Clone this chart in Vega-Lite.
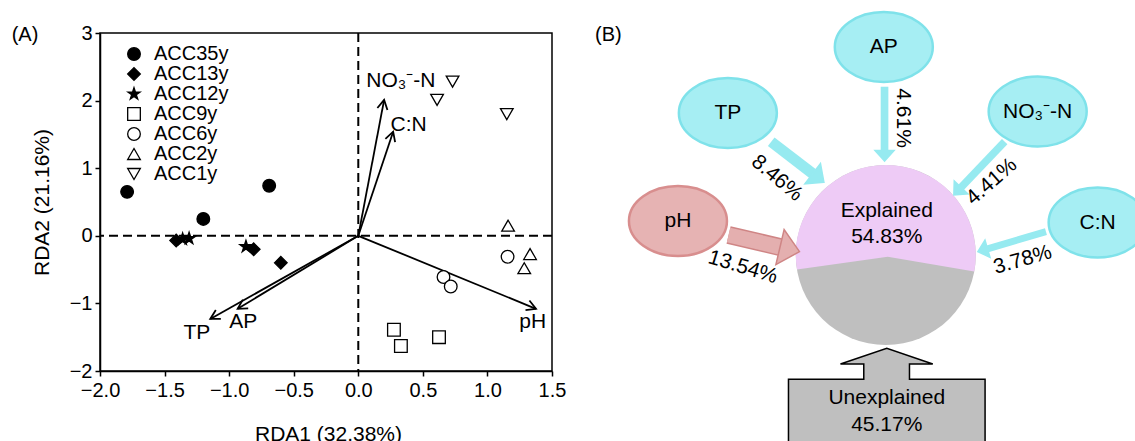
{
  "$schema": "https://vega.github.io/schema/vega-lite/v6.json",
  "background": "white",
  "padding": {"left": 10, "top": 7, "right": 0, "bottom": 0},
  "spacing": 28,
  "resolve": {
    "scale": {"shape": "independent", "fill": "independent", "stroke": "independent", "size": "independent", "strokeWidth": "independent", "color": "independent"},
    "legend": {"shape": "independent", "fill": "independent"}
  },
  "config": {
    "font": "Liberation Sans",
    "text": {"font": "Liberation Sans", "color": "black"},
    "axis": {
      "labelFont": "Liberation Sans", "titleFont": "Liberation Sans",
      "labelColor": "black", "titleColor": "black",
      "domainColor": "black", "tickColor": "black",
      "domainWidth": 1.5, "tickWidth": 1.5, "tickSize": 5,
      "grid": false, "labelFontSize": 20, "titleFontSize": 21,
      "titleFontWeight": "normal"
    },
    "legend": {"labelFont": "Liberation Sans"}
  },
  "datasets": {
    "samples": [
      {"group": "ACC35y", "x": -1.79, "y": 0.65},
      {"group": "ACC35y", "x": -0.69, "y": 0.74},
      {"group": "ACC35y", "x": -1.20, "y": 0.25},
      {"group": "ACC13y", "x": -1.41, "y": -0.07},
      {"group": "ACC13y", "x": -0.81, "y": -0.20},
      {"group": "ACC13y", "x": -0.60, "y": -0.40},
      {"group": "ACC12y", "x": -1.36, "y": -0.05},
      {"group": "ACC12y", "x": -1.31, "y": -0.04},
      {"group": "ACC12y", "x": -0.87, "y": -0.16},
      {"group": "ACC9y", "x": 0.276, "y": -1.39},
      {"group": "ACC9y", "x": 0.33, "y": -1.63},
      {"group": "ACC9y", "x": 0.625, "y": -1.50},
      {"group": "ACC6y", "x": 1.156, "y": -0.31},
      {"group": "ACC6y", "x": 0.66, "y": -0.61},
      {"group": "ACC6y", "x": 0.716, "y": -0.75},
      {"group": "ACC2y", "x": 1.16, "y": 0.15},
      {"group": "ACC2y", "x": 1.33, "y": -0.27},
      {"group": "ACC2y", "x": 1.285, "y": -0.48},
      {"group": "ACC1y", "x": 0.73, "y": 2.28},
      {"group": "ACC1y", "x": 0.61, "y": 2.01},
      {"group": "ACC1y", "x": 1.15, "y": 1.80}
    ],
    "vectors": [
      {"var": "NO3-N", "label": "NO₃⁻-N", "x0": 0, "y0": 0, "x": 0.20, "y": 2.01, "heading": 10.7, "lx": 0.33, "ly": 2.29},
      {"var": "C:N", "label": "C:N", "x0": 0, "y0": 0, "x": 0.27, "y": 1.54, "heading": 18.4, "lx": 0.39, "ly": 1.64},
      {"var": "TP", "label": "TP", "x0": 0, "y0": 0, "x": -1.146, "y": -1.23, "heading": 240.6, "lx": -1.25, "ly": -1.44},
      {"var": "AP", "label": "AP", "x0": 0, "y0": 0, "x": -0.934, "y": -1.08, "heading": 238.7, "lx": -0.89, "ly": -1.28},
      {"var": "pH", "label": "pH", "x0": 0, "y0": 0, "x": 1.376, "y": -1.08, "heading": 112.4, "lx": 1.35, "ly": -1.28}
    ],
    "nodes": [
      {"var": "AP", "label": "AP", "pct": 4.61, "ptext": "4.61%", "ex": -0.022, "ey": 2.311, "sx": -0.014, "sy": 1.870, "bx": -0.014, "by": 1.162, "heading": 180, "tx": 0.189, "ty": 1.522, "tangle": 90},
      {"var": "TP", "label": "TP", "pct": 8.46, "ptext": "8.46%", "ex": -1.756, "ey": 1.578, "sx": -1.274, "sy": 1.259, "bx": -0.813, "by": 0.904, "heading": 127.6, "tx": -1.211, "ty": 0.852, "tangle": 40},
      {"var": "NO3-N", "label": "NO₃⁻-N", "pct": 4.41, "ptext": "4.41%", "ex": 1.689, "ey": 1.594, "sx": 1.322, "sy": 1.259, "bx": 0.837, "by": 0.751, "heading": 223.7, "tx": 1.178, "ty": 0.814, "tangle": -41},
      {"var": "C:N", "label": "C:N", "pct": 3.78, "ptext": "3.78%", "ex": 2.356, "ey": 0.361, "sx": 1.781, "sy": 0.259, "bx": 1.131, "by": 0.069, "heading": 253.7, "tx": 1.522, "ty": -0.056, "tangle": -16},
      {"var": "pH", "label": "pH", "pct": 13.54, "ptext": "13.54%", "ex": -2.311, "ey": 0.378, "sx": -1.748, "sy": 0.222, "bx": -1.176, "by": 0.088, "heading": 103.2, "tx": -1.589, "ty": -0.137, "tangle": 17}
    ],
    "parts": [
      {"part": "Unexplained", "pct": 45.17, "ax": 0, "ay": 0, "bx": 0.011, "by": -1.611},
      {"part": "Explained", "pct": 54.83, "ax": 0, "ay": 0, "bx": 0.011, "by": -1.611}
    ],
    "lines": [
      {"t": "Explained", "x": 0.011, "y": 0.489},
      {"t": "54.83%", "x": 0.011, "y": 0.2},
      {"t": "Unexplained", "x": 0.011, "y": -1.589},
      {"t": "45.17%", "x": 0.011, "y": -1.889}
    ],
    "tags": [
      {"panel": "A", "t": "(A)", "x": -2.581, "y": 2.969},
      {"panel": "B", "t": "(B)", "x": -3.233, "y": 2.444}
    ]
  },
  "hconcat": [
    {
      "width": 452,
      "height": 338,
      "view": {"stroke": "black", "strokeWidth": 1.5},
      "layer": [
        {
          "data": {"values": [{"zero": 0}]},
          "mark": {"type": "rule", "strokeDash": [9, 5], "strokeWidth": 2, "color": "black"},
          "encoding": {"y": {"field": "zero", "type": "quantitative", "scale": {"domain": [-2, 3], "nice": false, "zero": false}}}
        },
        {
          "data": {"values": [{"zero": 0}]},
          "mark": {"type": "rule", "strokeDash": [9, 5], "strokeWidth": 2, "color": "black"},
          "encoding": {"x": {"field": "zero", "type": "quantitative", "scale": {"domain": [-2, 1.5], "nice": false, "zero": false}}}
        },
        {
          "data": {"name": "vectors"},
          "mark": {"type": "rule", "strokeWidth": 1.8, "color": "black"},
          "encoding": {
            "x": {"field": "x0", "type": "quantitative"},
            "y": {"field": "y0", "type": "quantitative"},
            "x2": {"field": "x"},
            "y2": {"field": "y"}
          }
        },
        {
          "data": {"name": "vectors"},
          "mark": {"type": "point", "shape": "M-0.5,0.9 L0,0 L0.5,0.9", "size": 420, "filled": false, "stroke": "black", "strokeWidth": 1.8, "opacity": 1},
          "encoding": {
            "x": {"field": "x", "type": "quantitative"},
            "y": {"field": "y", "type": "quantitative"},
            "angle": {"field": "heading", "type": "quantitative", "scale": null}
          }
        },
        {
          "data": {"name": "vectors"},
          "mark": {"type": "text", "fontSize": 21, "align": "center", "baseline": "middle"},
          "encoding": {
            "x": {"field": "lx", "type": "quantitative"},
            "y": {"field": "ly", "type": "quantitative"},
            "text": {"field": "label", "type": "nominal"}
          }
        },
        {
          "data": {"name": "tags"},
          "transform": [{"filter": "datum.panel === 'A'"}],
          "mark": {"type": "text", "fontSize": 20, "align": "center", "baseline": "middle"},
          "encoding": {
            "x": {"field": "x", "type": "quantitative"},
            "y": {"field": "y", "type": "quantitative"},
            "text": {"field": "t", "type": "nominal"}
          }
        },
        {
          "data": {"name": "samples"},
          "mark": {"type": "point", "size": 160, "stroke": "black", "strokeWidth": 1.3, "opacity": 1},
          "encoding": {
            "x": {
              "field": "x", "type": "quantitative",
              "scale": {"domain": [-2, 1.5], "nice": false, "zero": false},
              "axis": {"values": [-2, -1.5, -1, -0.5, 0, 0.5, 1, 1.5], "format": ".1f", "title": "RDA1 (32.38%)", "labelPadding": 4, "titleX": 228, "titleY": 52, "titleBaseline": "top", "labelFlush": false}
            },
            "y": {
              "field": "y", "type": "quantitative",
              "scale": {"domain": [-2, 3], "nice": false, "zero": false},
              "axis": {"values": [-2, -1, 0, 1, 2, 3], "format": "d", "title": "RDA2 (21.16%)", "labelPadding": 3, "titleX": -58, "titleBaseline": "middle", "labelFlush": false}
            },
            "shape": {
              "field": "group", "type": "nominal",
              "scale": {
                "domain": ["ACC35y", "ACC13y", "ACC12y", "ACC9y", "ACC6y", "ACC2y", "ACC1y"],
                "range": ["circle", "diamond", "M0,-1 L0.2245,-0.309 L0.951,-0.309 L0.363,0.118 L0.588,0.809 L0,0.382 L-0.588,0.809 L-0.363,0.118 L-0.951,-0.309 L-0.2245,-0.309 Z", "square", "circle", "triangle-up", "triangle-down"]
              },
              "legend": {
                "orient": "none", "legendX": 24, "legendY": 11, "title": null,
                "labelFontSize": 20, "labelColor": "black", "symbolSize": 160,
                "symbolStrokeColor": "black", "symbolStrokeWidth": 1.3, "symbolOpacity": 1,
                "rowPadding": 0, "labelOffset": 10, "padding": 0,
                "encode": {"symbols": {"update": {"stroke": {"value": "black"}, "strokeWidth": {"value": 1.3}}}}
              }
            },
            "fill": {
              "field": "group", "type": "nominal",
              "scale": {
                "domain": ["ACC35y", "ACC13y", "ACC12y", "ACC9y", "ACC6y", "ACC2y", "ACC1y"],
                "range": ["black", "black", "black", "white", "white", "white", "white"]
              },
              "legend": {
                "orient": "none", "legendX": 24, "legendY": 11, "title": null,
                "labelFontSize": 20, "labelColor": "black", "symbolSize": 160,
                "symbolStrokeColor": "black", "symbolStrokeWidth": 1.3, "symbolOpacity": 1,
                "rowPadding": 0, "labelOffset": 10, "padding": 0,
                "encode": {"symbols": {"update": {"stroke": {"value": "black"}, "strokeWidth": {"value": 1.3}}}}
              }
            }
          }
        }
      ]
    },
    {
      "width": 536,
      "height": 408,
      "view": {"stroke": null},
      "layer": [
        {
          "data": {"name": "parts"},
          "mark": {"type": "point", "size": 32400, "filled": true, "opacity": 1, "strokeWidth": 0},
          "encoding": {
            "x": {"field": "ax", "type": "quantitative", "scale": {"domain": [-3.2, 2.76], "nice": false, "zero": false}, "axis": null},
            "y": {"field": "ay", "type": "quantitative", "scale": {"domain": [-2.067, 2.467], "nice": false, "zero": false}, "axis": null},
            "shape": {
              "field": "part", "type": "nominal",
              "scale": {"domain": ["Unexplained", "Explained"], "range": ["circle", "M-0.987,0.16 L0.022,0.02 L0.983,0.183 A1,1 0 1,0 -0.987,0.16 Z"]},
              "legend": null
            },
            "fill": {
              "field": "part", "type": "nominal",
              "scale": {"domain": ["Unexplained", "Explained"], "range": ["#BFBFBF", "#EECBF6"]},
              "legend": null
            }
          }
        },
        {
          "data": {"name": "parts"},
          "transform": [{"filter": "datum.part === 'Unexplained'"}],
          "mark": {"type": "point", "shape": "M-0.983,0.5 L-0.983,-0.207 L-0.23,-0.207 L-0.23,-0.36 L-0.463,-0.36 L0,-0.517 L0.46,-0.36 L0.227,-0.36 L0.227,-0.207 L0.983,-0.207 L0.983,0.5 Z", "size": 40000, "filled": true, "fill": "#BFBFBF", "stroke": "black", "strokeWidth": 1.5, "opacity": 1},
          "encoding": {
            "x": {"field": "bx", "type": "quantitative", "axis": null},
            "y": {"field": "by", "type": "quantitative", "axis": null}
          }
        },
        {
          "data": {"name": "lines"},
          "mark": {"type": "text", "fontSize": 21, "align": "center", "baseline": "middle"},
          "encoding": {
            "x": {"field": "x", "type": "quantitative", "axis": null},
            "y": {"field": "y", "type": "quantitative", "axis": null},
            "text": {"field": "t", "type": "nominal"}
          }
        },
        {
          "data": {"name": "nodes"},
          "transform": [{"filter": "datum.var === 'pH'"}],
          "mark": {"type": "rule", "strokeWidth": 18, "color": "#CF8585"},
          "encoding": {
            "x": {"field": "sx", "type": "quantitative", "axis": null},
            "y": {"field": "sy", "type": "quantitative", "axis": null},
            "x2": {"field": "bx"},
            "y2": {"field": "by"}
          }
        },
        {
          "data": {"name": "nodes"},
          "mark": {"type": "rule"},
          "encoding": {
            "x": {"field": "sx", "type": "quantitative", "axis": null},
            "y": {"field": "sy", "type": "quantitative", "axis": null},
            "x2": {"field": "bx"},
            "y2": {"field": "by"},
            "strokeWidth": {"field": "pct", "type": "quantitative", "scale": {"domain": [3.78, 13.54], "range": [7, 15]}, "legend": null},
            "color": {"condition": {"test": "datum.var === 'pH'", "value": "#E4AFAF"}, "value": "#96EAF0"}
          }
        },
        {
          "data": {"name": "nodes"},
          "mark": {"type": "point", "shape": "M0,-1 L0.9,0 L-0.9,0 Z", "filled": true, "opacity": 1, "strokeWidth": 1.5},
          "encoding": {
            "x": {"field": "bx", "type": "quantitative", "axis": null},
            "y": {"field": "by", "type": "quantitative", "axis": null},
            "angle": {"field": "heading", "type": "quantitative", "scale": null},
            "size": {"field": "pct", "type": "quantitative", "scale": {"type": "pow", "exponent": 2, "domain": [3.78, 13.54], "range": [400, 1600], "zero": false}, "legend": null},
            "fill": {"condition": {"test": "datum.var === 'pH'", "value": "#E4AFAF"}, "value": "#96EAF0"},
            "stroke": {"condition": {"test": "datum.var === 'pH'", "value": "#CF8585"}, "value": "#96EAF0"}
          }
        },
        {
          "data": {"name": "nodes"},
          "mark": {"type": "point", "shape": "M-1,0 A1,0.714 0 1,1 1,0 A1,0.714 0 1,1 -1,0 Z", "size": 9604, "filled": true, "opacity": 1, "strokeWidth": 2.5},
          "encoding": {
            "x": {"field": "ex", "type": "quantitative", "axis": null},
            "y": {"field": "ey", "type": "quantitative", "axis": null},
            "fill": {"condition": {"test": "datum.var === 'pH'", "value": "#E6B3B3"}, "value": "#A6EEF3"},
            "stroke": {"condition": {"test": "datum.var === 'pH'", "value": "#D88E8E"}, "value": "#7FE2EA"}
          }
        },
        {
          "data": {"name": "nodes"},
          "mark": {"type": "text", "fontSize": 21, "align": "center", "baseline": "middle"},
          "encoding": {
            "x": {"field": "ex", "type": "quantitative", "axis": null},
            "y": {"field": "ey", "type": "quantitative", "axis": null},
            "text": {"field": "label", "type": "nominal"}
          }
        },
        {
          "data": {"name": "nodes"},
          "mark": {"type": "text", "fontSize": 21, "align": "center", "baseline": "middle"},
          "encoding": {
            "x": {"field": "tx", "type": "quantitative", "axis": null},
            "y": {"field": "ty", "type": "quantitative", "axis": null},
            "text": {"field": "ptext", "type": "nominal"},
            "angle": {"field": "tangle", "type": "quantitative", "scale": null}
          }
        },
        {
          "data": {"name": "tags"},
          "transform": [{"filter": "datum.panel === 'B'"}],
          "mark": {"type": "text", "fontSize": 20, "align": "left", "baseline": "middle"},
          "encoding": {
            "x": {"field": "x", "type": "quantitative", "axis": null},
            "y": {"field": "y", "type": "quantitative", "axis": null},
            "text": {"field": "t", "type": "nominal"}
          }
        }
      ]
    }
  ]
}
